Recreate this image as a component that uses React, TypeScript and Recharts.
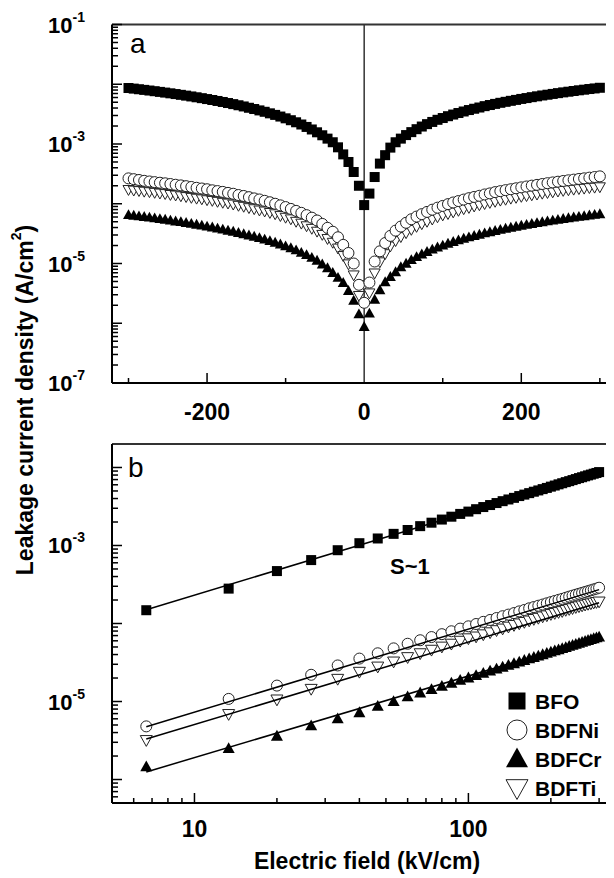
import React from 'react';
import { ScatterChart, Scatter, XAxis, YAxis, ReferenceLine } from 'recharts';

// Electric field values (kV/cm) of the positive branch
const fieldPos = [6.67, 13.33, 20, 26.67, 33.33, 40, 46.67, 53.33, 60, 66.67, 73.33, 80, 86.67, 93.33, 100, 106.67, 113.33, 120, 126.67, 133.33, 140, 146.67, 153.33, 160, 166.67, 173.33, 180, 186.67, 193.33, 200, 206.67, 213.33, 220, 226.67, 233.33, 240, 246.67, 253.33, 260, 266.67, 273.33, 280, 286.67, 293.33, 300];

// Leakage current density (A/cm2), positive field branch
const bfoPos = [1.48e-4, 2.8e-4, 4.7e-4, 6.5e-4, 8.7e-4, 1.07e-3, 1.23e-3, 1.41e-3, 1.58e-3, 1.77e-3, 1.96e-3, 2.15e-3, 2.34e-3, 2.54e-3, 2.72e-3, 2.92e-3, 3.11e-3, 3.3e-3, 3.5e-3, 3.7e-3, 3.89e-3, 4.08e-3, 4.3e-3, 4.49e-3, 4.69e-3, 4.89e-3, 5.08e-3, 5.28e-3, 5.47e-3, 5.68e-3, 5.87e-3, 6.08e-3, 6.28e-3, 6.49e-3, 6.68e-3, 6.89e-3, 7.1e-3, 7.31e-3, 7.5e-3, 7.71e-3, 7.92e-3, 8.11e-3, 8.32e-3, 8.51e-3, 8.73e-3];
const niPos = [4.8e-6, 1.08e-5, 1.6e-5, 2.2e-5, 2.9e-5, 3.55e-5, 4.15e-5, 4.8e-5, 5.5e-5, 6.1e-5, 6.7e-5, 7.3e-5, 7.95e-5, 8.6e-5, 9.2e-5, 9.85e-5, 1.05e-4, 1.11e-4, 1.175e-4, 1.24e-4, 1.3e-4, 1.36e-4, 1.43e-4, 1.49e-4, 1.565e-4, 1.625e-4, 1.69e-4, 1.75e-4, 1.815e-4, 1.88e-4, 1.945e-4, 2.01e-4, 2.07e-4, 2.14e-4, 2.21e-4, 2.275e-4, 2.34e-4, 2.405e-4, 2.47e-4, 2.535e-4, 2.6e-4, 2.665e-4, 2.735e-4, 2.8e-4, 2.875e-4];
const tiPos = [3.2e-6, 6.9e-6, 1.06e-5, 1.45e-5, 1.95e-5, 2.4e-5, 2.8e-5, 3.25e-5, 3.7e-5, 4.15e-5, 4.6e-5, 5.05e-5, 5.5e-5, 6.0e-5, 6.45e-5, 6.8e-5, 7.25e-5, 7.7e-5, 8.2e-5, 8.6e-5, 9.1e-5, 9.55e-5, 1.0e-4, 1.045e-4, 1.09e-4, 1.14e-4, 1.18e-4, 1.23e-4, 1.27e-4, 1.32e-4, 1.36e-4, 1.4e-4, 1.44e-4, 1.49e-4, 1.53e-4, 1.57e-4, 1.62e-4, 1.66e-4, 1.7e-4, 1.74e-4, 1.78e-4, 1.81e-4, 1.85e-4, 1.88e-4, 1.91e-4];
const crPos = [1.46e-6, 2.5e-6, 3.6e-6, 4.9e-6, 6.0e-6, 7.2e-6, 8.7e-6, 1.0e-5, 1.15e-5, 1.29e-5, 1.43e-5, 1.57e-5, 1.72e-5, 1.87e-5, 2.01e-5, 2.16e-5, 2.31e-5, 2.46e-5, 2.61e-5, 2.76e-5, 2.91e-5, 3.06e-5, 3.22e-5, 3.37e-5, 3.53e-5, 3.68e-5, 3.84e-5, 3.99e-5, 4.15e-5, 4.31e-5, 4.47e-5, 4.62e-5, 4.78e-5, 4.94e-5, 5.11e-5, 5.26e-5, 5.42e-5, 5.6e-5, 5.75e-5, 5.92e-5, 6.08e-5, 6.24e-5, 6.4e-5, 6.56e-5, 6.73e-5];

// Negative field branch (values at -6.67 ... -300 kV/cm)
const bfoNeg = [2.0e-4, 3.4e-4, 5.0e-4, 6.7e-4, 8.8e-4, 1.07e-3, 1.23e-3, 1.4e-3, 1.57e-3, 1.75e-3, 1.93e-3, 2.12e-3, 2.31e-3, 2.5e-3, 2.69e-3, 2.88e-3, 3.07e-3, 3.26e-3, 3.46e-3, 3.65e-3, 3.85e-3, 4.04e-3, 4.25e-3, 4.45e-3, 4.65e-3, 4.85e-3, 5.05e-3, 5.25e-3, 5.45e-3, 5.65e-3, 5.85e-3, 6.05e-3, 6.25e-3, 6.45e-3, 6.65e-3, 6.85e-3, 7.05e-3, 7.25e-3, 7.45e-3, 7.65e-3, 7.85e-3, 8.05e-3, 8.25e-3, 8.45e-3, 8.65e-3];
const niNeg = [4.4e-6, 1.0e-5, 1.5e-5, 2.05e-5, 2.75e-5, 3.4e-5, 3.95e-5, 4.6e-5, 5.25e-5, 5.85e-5, 6.45e-5, 7.05e-5, 7.6e-5, 8.2e-5, 8.8e-5, 9.4e-5, 1.0e-4, 1.06e-4, 1.12e-4, 1.18e-4, 1.23e-4, 1.29e-4, 1.35e-4, 1.4e-4, 1.47e-4, 1.52e-4, 1.58e-4, 1.63e-4, 1.68e-4, 1.75e-4, 1.8e-4, 1.85e-4, 1.91e-4, 1.97e-4, 2.03e-4, 2.08e-4, 2.14e-4, 2.2e-4, 2.25e-4, 2.3e-4, 2.36e-4, 2.42e-4, 2.5e-4, 2.58e-4, 2.66e-4];
const tiNeg = [2.9e-6, 6.4e-6, 9.8e-6, 1.35e-5, 1.8e-5, 2.25e-5, 2.6e-5, 3.05e-5, 3.45e-5, 3.85e-5, 4.25e-5, 4.7e-5, 5.05e-5, 5.55e-5, 5.9e-5, 6.3e-5, 6.75e-5, 7.1e-5, 7.5e-5, 7.8e-5, 8.2e-5, 8.55e-5, 9.0e-5, 9.35e-5, 9.8e-5, 1.02e-4, 1.05e-4, 1.09e-4, 1.13e-4, 1.16e-4, 1.2e-4, 1.23e-4, 1.27e-4, 1.31e-4, 1.35e-4, 1.39e-4, 1.42e-4, 1.47e-4, 1.5e-4, 1.54e-4, 1.58e-4, 1.61e-4, 1.65e-4, 1.68e-4, 1.72e-4];
const crNeg = [1.42e-6, 2.4e-6, 3.5e-6, 4.75e-6, 5.8e-6, 7.0e-6, 8.4e-6, 9.7e-6, 1.12e-5, 1.25e-5, 1.39e-5, 1.52e-5, 1.67e-5, 1.81e-5, 1.95e-5, 2.1e-5, 2.24e-5, 2.39e-5, 2.53e-5, 2.68e-5, 2.82e-5, 2.97e-5, 3.12e-5, 3.27e-5, 3.42e-5, 3.57e-5, 3.72e-5, 3.87e-5, 4.03e-5, 4.18e-5, 4.34e-5, 4.48e-5, 4.64e-5, 4.79e-5, 4.96e-5, 5.1e-5, 5.26e-5, 5.43e-5, 5.58e-5, 5.74e-5, 5.9e-5, 6.05e-5, 6.2e-5, 6.36e-5, 6.5e-5];

// Values at zero field
const zeroField = { bfo: 9.5e-5, ni: 2.2e-6, ti: 4.4e-6, cr: 8.7e-7 };

// Linear fits in panel b (end points)
const fitX = [6.67, 300];
const fitBfoY = [1.5e-4, 8.6e-3];
const fitNiY = [4.75e-6, 2.72e-4];
const fitTiY = [3.3e-6, 1.85e-4];
const fitCrY = [1.25e-6, 6.7e-5];

// Ticks
const topXTicks = [-300, -200, -100, 0, 100, 200, 300];
const topXLabeled = [-200, 0, 200];
const topYDecades = [1e-7, 1e-6, 1e-5, 1e-4, 1e-3, 1e-2, 1e-1];
const topYLabeled = [-7, -5, -3, -1];
const botYDecades = [1e-7, 1e-6, 1e-5, 1e-4, 1e-3, 1e-2];
const botYLabeled = [-5, -3];
const botXDecades = [1, 10, 100];
const botXLabeled = [10, 100];

// Legend entries (baseline y in overlay coordinates)
const legendItems = [
  { name: 'BFO', kind: 'sq', y: 701 },
  { name: 'BDFNi', kind: 'ci', y: 730 },
  { name: 'BDFCr', kind: 'tu', y: 759 },
  { name: 'BDFTi', kind: 'td', y: 788 },
];

const FONT = '"Liberation Sans", Arial, Helvetica, sans-serif';

const withMinors = (decades: number[], lo: number, hi: number, incEdges: boolean) => {
  const out: number[] = [];
  decades.forEach((d) => {
    for (let m = 1; m <= 9; m++) {
      const v = m * d;
      const ok = incEdges ? v >= lo * 0.999 && v <= hi * 1.001 : v > lo * 1.001 && v < hi * 0.999;
      if (ok) out.push(v);
    }
  });
  return out;
};

const topYTicks = withMinors(topYDecades, 1e-7, 1e-1, true);
const botYTicks = withMinors(botYDecades, 5e-7, 2e-2, false);
const botXTicks = withMinors(botXDecades, 5, 340, false);

const pts = (xs: number[], ys: number[]) => ys.map((y, i) => ({ x: xs[i], y }));
const topSeries = (neg: number[], zero: number, pos: number[]) => [
  ...neg.map((y, i) => ({ x: -fieldPos[i], y })).reverse(),
  { x: 0, y: zero },
  ...pos.map((y, i) => ({ x: fieldPos[i], y })),
];

const topBfo = topSeries(bfoNeg, zeroField.bfo, bfoPos);
const topNi = topSeries(niNeg, zeroField.ni, niPos);
const topTi = topSeries(tiNeg, zeroField.ti, tiPos);
const topCr = topSeries(crNeg, zeroField.cr, crPos);

const botBfo = pts(fieldPos, bfoPos);
const botNi = pts(fieldPos, niPos);
const botTi = pts(fieldPos, tiPos);
const botCr = pts(fieldPos, crPos);

// Marker shapes
const SquareM = (p: any) => {
  const s = p.s || 10;
  return <rect x={p.cx - s / 2} y={p.cy - s / 2} width={s} height={s} fill="#000" />;
};
const CircleM = (p: any) => {
  const r = p.r || 5.5;
  return <circle cx={p.cx} cy={p.cy} r={r} fill="#fff" stroke="#222" strokeWidth={1} />;
};
const TriUpM = (p: any) => {
  const w = p.w || 11;
  const h = w * 0.9;
  const { cx, cy } = p;
  return <polygon points={`${cx},${cy - h * 0.58} ${cx - w / 2},${cy + h * 0.42} ${cx + w / 2},${cy + h * 0.42}`} fill="#000" />;
};
const TriDownM = (p: any) => {
  const w = p.w || 11;
  const h = w * 0.9;
  const { cx, cy } = p;
  return <polygon points={`${cx},${cy + h * 0.58} ${cx - w / 2},${cy - h * 0.42} ${cx + w / 2},${cy - h * 0.42}`} fill="#fff" stroke="#222" strokeWidth={1} />;
};
const NoShape = () => <g />;

const isDecade = (v: number) => Math.abs(Math.log10(v) - Math.round(Math.log10(v))) < 1e-6;

const LogYTick = (labeled: number[]) => (p: any) => {
  const v = p.payload.value;
  const major = isDecade(v);
  const e = Math.round(Math.log10(v));
  const len = major ? 10 : 6;
  return (
    <g>
      <line x1={p.x} y1={p.y} x2={p.x + len} y2={p.y} stroke="#000" strokeWidth={1.5} />
      {major && labeled.includes(e) && (
        <text x={p.x - 27} y={p.y + 8} textAnchor="end" fontFamily={FONT} fontWeight="bold" fontSize={22} fill="#000">
          10<tspan dy={-11} fontSize={14}>{`${e}`}</tspan>
        </text>
      )}
    </g>
  );
};

const LinXTick = (p: any) => {
  const v = p.payload.value;
  const major = topXLabeled.includes(v);
  return (
    <g>
      {v !== 0 && <line x1={p.x} y1={p.y} x2={p.x} y2={p.y - (major ? 10 : 5)} stroke="#000" strokeWidth={1.5} />}
      {major && (
        <text x={p.x} y={p.y + 37} textAnchor="middle" fontFamily={FONT} fontWeight="bold" fontSize={23} fill="#000">
          {`${v}`}
        </text>
      )}
    </g>
  );
};

const LogXTick = (p: any) => {
  const v = p.payload.value;
  const major = isDecade(v);
  return (
    <g>
      <line x1={p.x} y1={p.y} x2={p.x} y2={p.y - (major ? 10 : 5)} stroke="#000" strokeWidth={1.5} />
      {major && botXLabeled.includes(Math.round(v)) && (
        <text x={p.x} y={p.y + 34} textAnchor="middle" fontFamily={FONT} fontWeight="bold" fontSize={23} fill="#000">
          {`${Math.round(v)}`}
        </text>
      )}
    </g>
  );
};

export default function App() {
  const axisLine = { stroke: '#000', strokeWidth: 2 };
  return (
    <div style={{ position: 'relative', width: 606, height: 870, background: '#fff' }}>
      <style>{`html,body{overflow:hidden;background:#fff}`}</style>
      <ScatterChart width={606} height={420} margin={{ top: 16.5, right: 0, bottom: 0, left: 0 }}>
        <XAxis
          type="number"
          dataKey="x"
          domain={[-321, 318]}
          ticks={topXTicks}
          interval={0}
          allowDataOverflow
          tick={LinXTick}
          tickLine={false}
          tickSize={0}
          tickMargin={0}
          axisLine={axisLine}
          height={45}
        />
        <YAxis
          type="number"
          dataKey="y"
          scale="log"
          domain={[1e-7, 1e-1]}
          ticks={topYTicks}
          interval={0}
          allowDataOverflow
          tick={LogYTick(topYLabeled)}
          tickLine={false}
          tickSize={0}
          tickMargin={0}
          axisLine={axisLine}
          width={104}
        />
        <ReferenceLine y={1e-1} stroke="#333" strokeWidth={2} />
        <ReferenceLine x={0} stroke="#333" strokeWidth={1.5} />
        <Scatter data={topBfo} shape={(p: any) => <SquareM {...p} s={10} />} isAnimationActive={false} />
        <Scatter data={topCr} shape={(p: any) => <TriUpM {...p} w={11} />} isAnimationActive={false} />
        <Scatter data={topTi} shape={(p: any) => <TriDownM {...p} w={11} />} isAnimationActive={false} />
        <Scatter data={topNi} shape={(p: any) => <CircleM {...p} r={5.5} />} isAnimationActive={false} />
      </ScatterChart>
      <ScatterChart width={606} height={450} margin={{ top: 16, right: 0, bottom: 0, left: 0 }}>
        <XAxis
          type="number"
          dataKey="x"
          scale="log"
          domain={[5, 340]}
          ticks={botXTicks}
          interval={0}
          allowDataOverflow
          tick={LogXTick}
          tickLine={false}
          tickSize={0}
          tickMargin={0}
          axisLine={axisLine}
          height={75}
        />
        <YAxis
          type="number"
          dataKey="y"
          scale="log"
          domain={[5e-7, 2e-2]}
          ticks={botYTicks}
          interval={0}
          allowDataOverflow
          tick={LogYTick(botYLabeled)}
          tickLine={false}
          tickSize={0}
          tickMargin={0}
          axisLine={axisLine}
          width={104}
        />
        <ReferenceLine y={2e-2} stroke="#333" strokeWidth={2} />
        <Scatter data={botBfo} shape={(p: any) => <SquareM {...p} s={10} />} isAnimationActive={false} />
        <Scatter data={botCr} shape={(p: any) => <TriUpM {...p} w={12} />} isAnimationActive={false} />
        <Scatter data={botTi} shape={(p: any) => <TriDownM {...p} w={12} />} isAnimationActive={false} />
        <Scatter data={botNi} shape={(p: any) => <CircleM {...p} r={5.5} />} isAnimationActive={false} />
        <Scatter data={pts(fitX, fitBfoY)} line={{ stroke: '#000', strokeWidth: 1.5 }} shape={NoShape} isAnimationActive={false} />
        <Scatter data={pts(fitX, fitNiY)} line={{ stroke: '#000', strokeWidth: 1.5 }} shape={NoShape} isAnimationActive={false} />
        <Scatter data={pts(fitX, fitTiY)} line={{ stroke: '#000', strokeWidth: 1.5 }} shape={NoShape} isAnimationActive={false} />
        <Scatter data={pts(fitX, fitCrY)} line={{ stroke: '#000', strokeWidth: 1.5 }} shape={NoShape} isAnimationActive={false} />
      </ScatterChart>
      <svg
        width={606}
        height={870}
        style={{ position: 'absolute', left: 0, top: 0, pointerEvents: 'none', overflow: 'visible' }}
      >
        <text x={122} y={45} fontFamily={FONT} fontSize={28} fill="#000">a</text>
        <text x={120} y={469} fontFamily={FONT} fontSize={28} fill="#000">b</text>
        <text x={382} y={566} fontFamily={FONT} fontSize={22} fontWeight="bold" fill="#000">S~1</text>
        <text
          transform="translate(17,392) rotate(-90)"
          textAnchor="middle"
          dominantBaseline="central"
          fontFamily={FONT}
          fontSize={23}
          fontWeight="bold"
          fill="#000"
        >
          Leakage current density (A/cm<tspan dy={-9} fontSize={14}>2</tspan><tspan dy={9}>)</tspan>
        </text>
        <text x={359} y={861} textAnchor="middle" fontFamily={FONT} fontSize={23} fontWeight="bold" fill="#000">
          Electric field (kV/cm)
        </text>
        {legendItems.map((it) => {
          const cx = 509;
          const cy = it.y - 8;
          return (
            <g key={it.name}>
              {it.kind === 'sq' && <SquareM cx={cx} cy={cy} s={17} />}
              {it.kind === 'ci' && <CircleM cx={cx} cy={cy} r={10} />}
              {it.kind === 'tu' && <TriUpM cx={cx} cy={cy} w={22} />}
              {it.kind === 'td' && <TriDownM cx={cx} cy={cy} w={22} />}
              <text x={527} y={it.y} fontFamily={FONT} fontSize={21} fontWeight="bold" fill="#000">
                {it.name}
              </text>
            </g>
          );
        })}
      </svg>
    </div>
  );
}
